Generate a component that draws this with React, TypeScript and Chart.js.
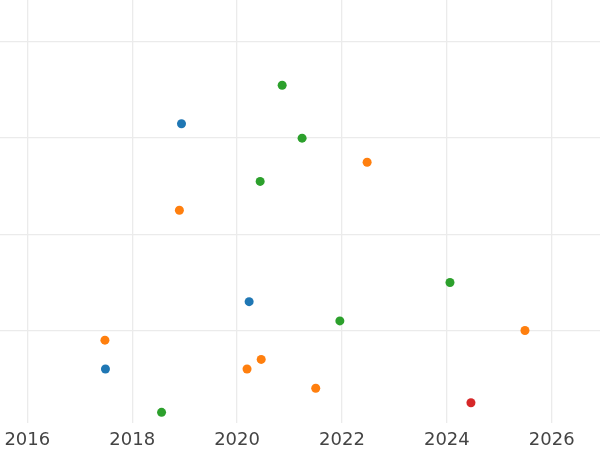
import React, { useEffect, useRef } from "react";
import { Chart, registerables } from "chart.js";

Chart.register(...registerables);

const xTicks = [2016, 2018, 2020, 2022, 2024, 2026];
const yTicks = [1, 2, 3, 4];

const blueX = [2018.94, 2020.23, 2017.49];
const blueY = [3.15, 1.3, 0.6];

const orangeX = [2018.9, 2022.48, 2017.48, 2020.19, 2020.46, 2021.5, 2025.49];
const orangeY = [2.25, 2.75, 0.9, 0.6, 0.7, 0.4, 1.0];

const greenX = [2020.86, 2021.24, 2020.44, 2024.06, 2021.96, 2018.56];
const greenY = [3.55, 3.0, 2.55, 1.5, 1.1, 0.15];

const redX = [2024.46];
const redY = [0.25];

const pts = (xs: number[], ys: number[]) => xs.map((x, i) => ({ x, y: ys[i] }));

export default function App() {
  const ref = useRef<HTMLCanvasElement | null>(null);
  useEffect(() => {
    if (!ref.current) return;
    const mk = (label: string, xs: number[], ys: number[], color: string) => ({
      label,
      data: pts(xs, ys),
      backgroundColor: color,
      borderColor: color,
      borderWidth: 0,
      pointRadius: 4.5,
      pointHoverRadius: 4.5,
      clip: false,
    });
    const chart = new Chart(ref.current, {
      type: "scatter",
      data: {
        datasets: [
          mk("A", blueX, blueY, "#1f77b4"),
          mk("B", orangeX, orangeY, "#ff7f0e"),
          mk("C", greenX, greenY, "#2ca02c"),
          mk("D", redX, redY, "#d62728"),
        ],
      },
      options: {
        animation: false,
        responsive: false,
        layout: { padding: 0, autoPadding: false },
        plugins: { legend: { display: false }, tooltip: { enabled: false } },
        scales: {
          x: {
            type: "linear",
            min: 2015.479,
            max: 2026.921,
            afterBuildTicks: (s: any) => {
              s.ticks = xTicks.map((v) => ({ value: v }));
            },
            afterFit: (s: any) => {
              s.height = 27;
              s.paddingLeft = 0;
              s.paddingRight = 0;
              s.paddingTop = 0;
              s.paddingBottom = 0;
            },
            grid: { color: "#ebebeb", lineWidth: 1.3, drawTicks: false },
            border: { display: false },
            ticks: {
              padding: 7,
              color: "#444444",
              font: { family: "DejaVu Sans", size: 18 },
              maxRotation: 0,
              autoSkip: false,
              callback: (v: any) => String(v),
            },
          },
          y: {
            type: "linear",
            min: 0.039,
            max: 4.436,
            afterBuildTicks: (s: any) => {
              s.ticks = yTicks.map((v) => ({ value: v }));
            },
            afterFit: (s: any) => {
              s.width = 0;
              s.paddingLeft = 0;
              s.paddingRight = 0;
              s.paddingTop = 0;
              s.paddingBottom = 0;
            },
            grid: { color: "#ebebeb", lineWidth: 1.3, drawTicks: false, tickLength: 0 },
            border: { display: false },
            ticks: { display: false },
          },
        },
      },
    } as any);
    return () => chart.destroy();
  }, []);
  return (
    <div style={{ position: "fixed", left: 0, top: 0, width: 600, height: 450, background: "#fff" }}>
      <canvas ref={ref} width={600} height={450} style={{ width: 600, height: 450 }} />
    </div>
  );
}
